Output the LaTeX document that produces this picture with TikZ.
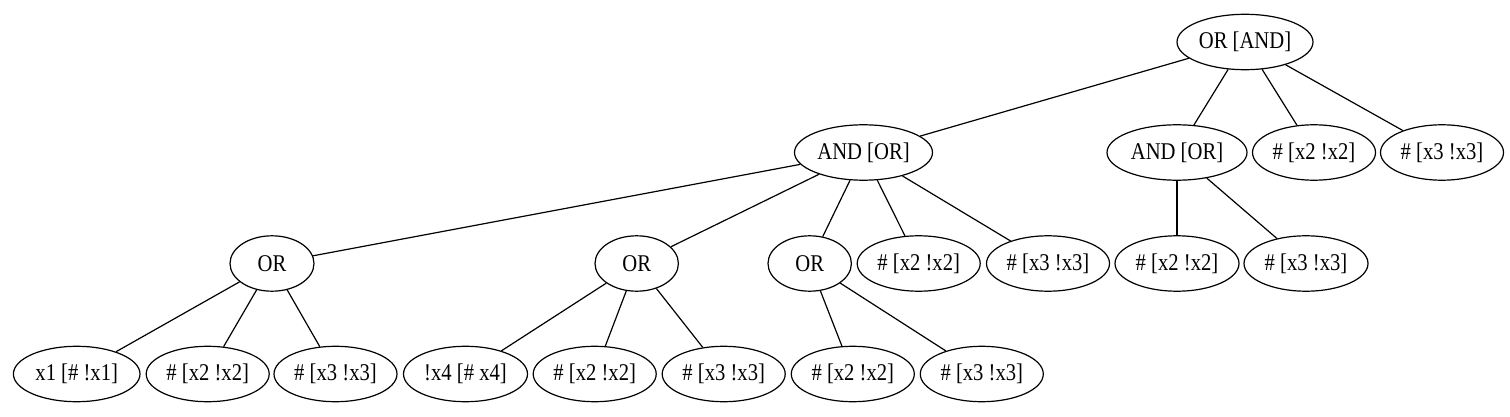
\documentclass[tikz,border=0pt]{standalone}
\usepackage{fontspec}
\setmainfont{Liberation Serif}[FakeStretch=0.86]
\usetikzlibrary{shapes.geometric}
\tikzset{
  nd/.style={ellipse, draw, line width=0.6pt, inner sep=0pt, minimum height=27.7pt, minimum width=#1pt, font=\fontsize{12}{14}\selectfont},
  nd/.default=61.5,
  edge/.style={line width=0.6pt}
}
\begin{document}
\begin{tikzpicture}[x=0.5pt, y=-0.5pt]
\useasboundingbox (0,0) rectangle (1510,417);
% level 0
\node[nd=68] (root) at (1245,42) {OR [AND]};
% level 1
\node[nd=69] (a1) at (863.5,152.5) {AND [OR]};
\node[nd=70] (a2) at (1177,152.5) {AND [OR]};
\node[nd] (r3) at (1314,152.5) {\# [x2 !x2]};
\node[nd] (r4) at (1442,152.5) {\# [x3 !x3]};
% level 2
\node[nd=42] (o1) at (272,263.5) {OR};
\node[nd=41.7] (o2) at (636.7,263.5) {OR};
\node[nd=41.7] (o3) at (809.7,263.5) {OR};
\node[nd] (m4) at (918.7,263.5) {\# [x2 !x2]};
\node[nd] (m5) at (1048,263.5) {\# [x3 !x3]};
\node[nd=62] (m6) at (1177,263.5) {\# [x2 !x2]};
\node[nd=62] (m7) at (1306,263.5) {\# [x3 !x3]};
% level 3
\node[nd=63.3] (l1) at (76.7,374) {x1 [\# !x1]};
\node[nd] (l2) at (207.7,374) {\# [x2 !x2]};
\node[nd] (l3) at (335.5,374) {\# [x3 !x3]};
\node[nd=62] (l4) at (465.5,374) {!x4 [\# x4]};
\node[nd] (l5) at (594.7,374) {\# [x2 !x2]};
\node[nd] (l6) at (723.7,374) {\# [x3 !x3]};
\node[nd] (l7) at (852.8,374) {\# [x2 !x2]};
\node[nd] (l8) at (981.8,374) {\# [x3 !x3]};
% edges
\foreach \c in {a1,a2,r3,r4} \draw[edge] (root) -- (\c);
\foreach \c in {o1,o2,o3,m4,m5} \draw[edge] (a1) -- (\c);
\foreach \c in {m6,m7} \draw[edge] (a2) -- (\c);
\foreach \c in {l1,l2,l3} \draw[edge] (o1) -- (\c);
\foreach \c in {l4,l5,l6} \draw[edge] (o2) -- (\c);
\foreach \c in {l7,l8} \draw[edge] (o3) -- (\c);
\end{tikzpicture}
\end{document}
